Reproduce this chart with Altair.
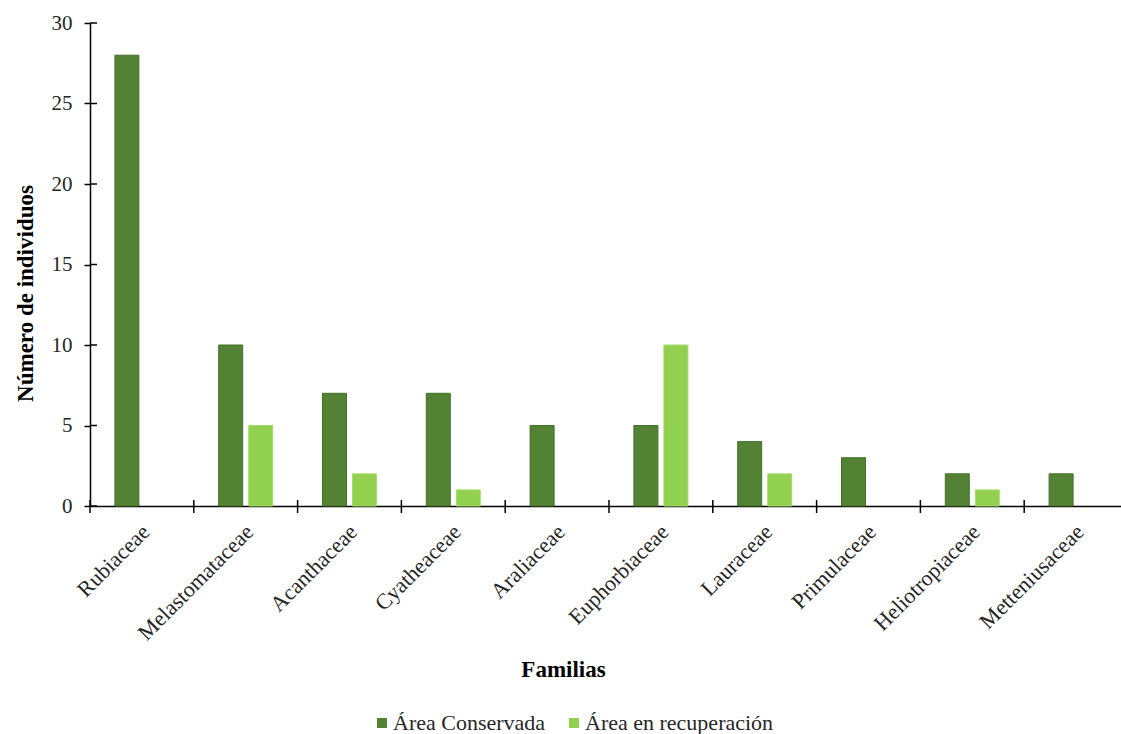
import altair as alt
import pandas as pd

familias = ["Rubiaceae", "Melastomataceae", "Acanthaceae", "Cyatheaceae", "Araliaceae",
            "Euphorbiaceae", "Lauraceae", "Primulaceae", "Heliotropiaceae", "Metteniusaceae"]
conservada = [28, 10, 7, 7, 5, 5, 4, 3, 2, 2]
recuperacion = [0, 5, 2, 1, 0, 10, 2, 0, 1, 0]
series = ["Área Conservada", "Área en recuperación"]
y_ticks = [0, 5, 10, 15, 20, 25, 30]

rows = []
for f, a, b in zip(familias, conservada, recuperacion):
    rows.append({"Familia": f, "Serie": series[0], "Valor": a})
    rows.append({"Familia": f, "Serie": series[1], "Valor": b})
df = pd.DataFrame(rows)
cats = pd.DataFrame({"Familia": familias})
yt = pd.DataFrame({"Valor": y_ticks})

FONT = "Liberation Serif"
W = 1031
H = 483

xscale = alt.Scale(domain=familias, range=[0, 1038], paddingInner=0, paddingOuter=0)
yscale = alt.Scale(domain=[0, 30], nice=False)
noview = alt.ViewBackground(strokeWidth=0)

x_axis = alt.Axis(title="Familias", labelAngle=-45, labelAlign="right",
                  labelBaseline="middle", labelFont=FONT, labelFontSize=22,
                  labelColor="#262626", labelPadding=22, labelOffset=4, ticks=False,
                  domainColor="#000000", domainWidth=1.5, grid=False,
                  titleFont=FONT, titleFontSize=23, titleFontWeight="bold",
                  titleColor="#000000", titleX=473, titleY=170,
                  titleBaseline="alphabetic", titleAnchor="start",
                  titleAlign="center", labelOverlap=False)
y_axis = alt.Axis(title="Número de individuos", values=y_ticks, grid=False,
                  tickSize=6, tickColor="#000000", tickWidth=1.5,
                  domainColor="#000000", domainWidth=1.5,
                  labelFont=FONT, labelFontSize=21, labelColor="#262626",
                  labelPadding=12,
                  titleFont=FONT, titleFontSize=23, titleFontWeight="bold",
                  titleColor="#000000", titleX=-58, titleY=270,
                  titleBaseline="alphabetic", titleAngle=-90)

bars = alt.Chart(df).transform_filter("datum.Valor > 0").mark_bar(strokeWidth=1).encode(
    x=alt.X("Familia:N", scale=xscale, sort=familias, axis=x_axis),
    xOffset=alt.XOffset("Serie:N", sort=series,
                        scale=alt.Scale(paddingInner=0.2, paddingOuter=0.83)),
    y=alt.Y("Valor:Q", scale=yscale, axis=y_axis),
    fill=alt.Fill("Serie:N", sort=series,
                  scale=alt.Scale(domain=series, range=["#548235", "#92D050"]),
                  legend=alt.Legend(title=None, orient="none", direction="horizontal",
                                    legendX=281, legendY=689, symbolType="square",
                                    symbolSize=100, symbolStrokeWidth=0,
                                    labelFont=FONT, labelFontSize=22, labelLimit=400,
                                    labelColor="#262626", labelOffset=0,
                                    columnPadding=17)),
    stroke=alt.Stroke("Serie:N", sort=series,
                      scale=alt.Scale(domain=series, range=["#44702a", "#a6dc6a"]),
                      legend=None),
)

xticks = alt.Chart(cats).mark_rule(color="#000000", strokeWidth=1.5).encode(
    x=alt.X("Familia:N", scale=xscale, sort=familias, bandPosition=0, axis=x_axis),
    y=alt.value(H - 6),
    y2=alt.value(H + 7),
)

yticks_in = alt.Chart(yt).mark_rule(color="#000000", strokeWidth=1.5).encode(
    y=alt.Y("Valor:Q", scale=yscale, axis=y_axis),
    x=alt.value(0),
    x2=alt.value(7),
)

chart = alt.layer(bars, xticks, yticks_in).properties(
    width=W, height=H,
    background="white",
    view=noview,
    autosize=alt.AutoSizeParams(type="none"),
    padding={"left": 90, "top": 23, "right": 0, "bottom": 228},
).configure_view(strokeWidth=0).configure_axis(grid=False)

chart.save("out.html", embed_options={"renderer": "svg", "actions": False})
